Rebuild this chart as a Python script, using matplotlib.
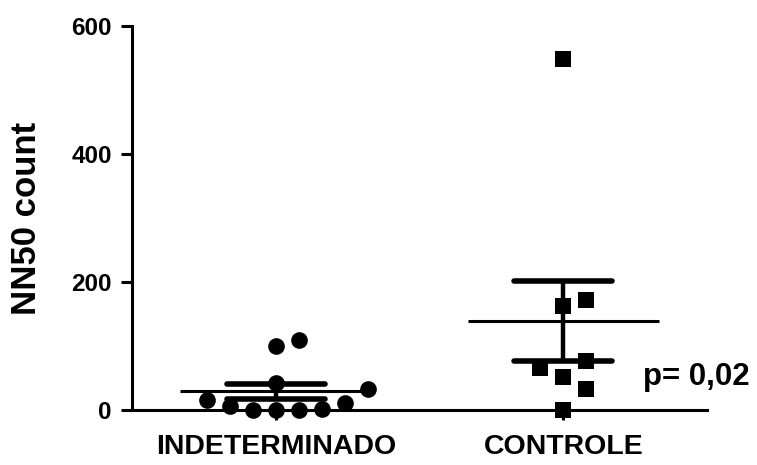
import numpy as np
import matplotlib
matplotlib.use("Agg")
import matplotlib.pyplot as plt

plt.rcParams['font.family'] = ['Liberation Sans', 'DejaVu Sans']
plt.rcParams['font.weight'] = 'bold'

# NN50 counts per group
groups = ["INDETERMINADO", "CONTROLE"]
indeterminado = [0, 0, 0, 2, 6, 11, 15, 33, 42, 100, 110]
controle = [0, 33, 52, 66, 77, 162, 172, 548]
y_ticks = [0, 200, 400, 600]
p_label = "p= 0,02"

fig = plt.figure(figsize=(7.57, 4.65), dpi=100)
ax = fig.add_axes([0.1744, 0.1183, 0.7596, 0.8258])
ax.set_xlim(0.5, 2.5)
ax.set_ylim(0, 600)


def slot_offsets(values, ax, slot=0.08, min_dy_px=24.0):
    """Column scatter: each point takes the nearest free slot to the centre."""
    vals = np.asarray(values, dtype=float)
    order = np.argsort(vals, kind="stable")
    ypx = np.array([ax.transData.transform((0, v))[1] for v in vals])
    candidates = [0]
    for k in range(1, 20):
        candidates += [k, -k]
    placed = []  # (slot, ypx)
    offsets = np.zeros(len(vals))
    for i in order:
        for c in candidates:
            if all(not (s == c and abs(y - ypx[i]) < min_dy_px) for s, y in placed):
                placed.append((c, ypx[i]))
                offsets[i] = c * slot
                break
    return offsets


def mean_sem(values):
    v = np.asarray(values, dtype=float)
    return v.mean(), v.std(ddof=1) / np.sqrt(len(v))


datasets = [indeterminado, controle]
markers = ["o", "s"]
msizes = [12, 11.5]

for pos, vals, mk, ms in zip([1, 2], datasets, markers, msizes):
    offs = slot_offsets(vals, ax)
    ax.plot(pos + offs, vals, linestyle="none", marker=mk, markersize=ms,
            color="black", markeredgewidth=0, zorder=3, clip_on=False)
    m, s = mean_sem(vals)
    ax.plot([pos - 0.333, pos + 0.333], [m, m], color="black", lw=2.2,
            solid_capstyle="butt", zorder=4)
    ax.plot([pos, pos], [m - s, m + s], color="black", lw=3.2, zorder=4,
            solid_capstyle="butt")
    for yv in (m - s, m + s):
        ax.plot([pos - 0.17, pos + 0.17], [yv, yv], color="black", lw=4,
                solid_capstyle="round", zorder=4)

ax.text(2.278, 39, p_label, fontsize=22.5, fontweight="bold", ha="left",
        va="baseline")

for side in ("top", "right"):
    ax.spines[side].set_visible(False)
for side in ("left", "bottom"):
    ax.spines[side].set_linewidth(2.2)

ax.set_yticks(y_ticks)
ax.set_yticklabels([str(t) for t in y_ticks])
ax.set_xticks([1, 2])
ax.set_xticklabels(groups)
ax.tick_params(axis="y", length=8, width=2.2, labelsize=17.5, pad=6.5)
ax.tick_params(axis="x", length=7, width=2.2, labelsize=20.5, pad=10.5)
for lab in ax.get_xticklabels() + ax.get_yticklabels():
    lab.set_fontweight("bold")

fig.text(27 / 757, 0.53, "NN50 count", rotation=90, ha="center",
         va="center", fontsize=25, fontweight="bold")

fig.savefig("out.png", dpi=100)
